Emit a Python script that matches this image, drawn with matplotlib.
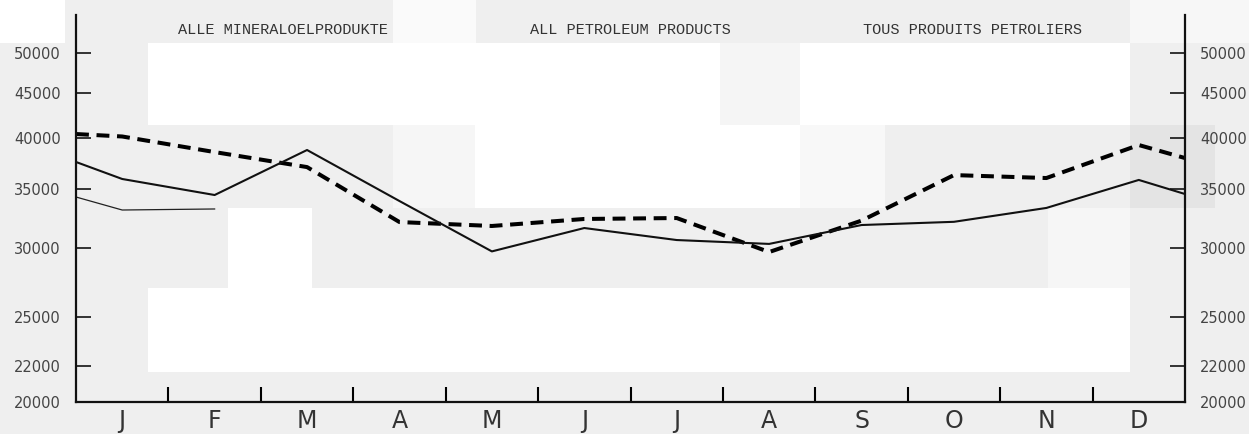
import matplotlib
matplotlib.use("Agg")
import matplotlib.pyplot as plt
from matplotlib.patches import Rectangle
from matplotlib.ticker import FixedLocator, NullLocator, FixedFormatter
import numpy as np

# Monatslabels und Werte (Rand links, 12 Monate, Rand rechts)
months = ["J", "F", "M", "A", "M", "J", "J", "A", "S", "O", "N", "D"]
titles = ["ALLE MINERALOELPRODUKTE", "ALL PETROLEUM PRODUCTS", "TOUS PRODUITS PETROLIERS"]

dashed_vals = [40420, 40160, 38550, 37060, 32080, 31750, 32340, 32420,
               29650, 32200, 36290, 36010, 39270, 37950]
solid_vals = [37560, 35920, 34440, 38760, 33900, 29700, 31580, 30600,
              30290, 31830, 32100, 33290, 35830, 34530]
thin_vals = [34260, 33110, 33200]

y_ticks = [20000, 22000, 25000, 30000, 35000, 40000, 45000, 50000]

W, H = 1249, 434
fig = plt.figure(figsize=(W / 100, H / 100), dpi=100)
fig.patch.set_facecolor("#efefef")

# hintergrund-bloecke wie im scan
blocks = [
    (0, 0, 65, 43, "white"),
    (393, 0, 476, 43, "#fafafa"),
    (1130, 0, 1249, 43, "#f7f7f7"),
    (148, 43, 720, 125, "white"),
    (720, 43, 800, 125, "#f5f5f5"),
    (800, 43, 1130, 125, "white"),
    (393, 125, 475, 208, "#f6f6f6"),
    (475, 125, 800, 208, "white"),
    (800, 125, 885, 208, "#f8f8f8"),
    (1130, 125, 1215, 208, "#e4e4e4"),
    (228, 208, 312, 372, "white"),
    (1048, 208, 1130, 288, "#f6f6f6"),
    (148, 288, 1130, 372, "white"),
]
for x0, y0, x1, y1, c in blocks:
    fig.add_artist(Rectangle((x0 / W, 1 - y1 / H), (x1 - x0) / W, (y1 - y0) / H,
                             transform=fig.transFigure, facecolor=c,
                             edgecolor="none", zorder=0))

ax = fig.add_axes([76 / W, (H - 402) / H, 1109 / W, 387 / H])
ax.patch.set_visible(False)

n = len(months)
x_full = np.concatenate([[0], np.arange(n) + 0.5, [n]])
x_thin = x_full[:len(thin_vals)]

ax.plot(x_full, dashed_vals, color="black", lw=2.9, linestyle=(0, (3.2, 1.9)),
        solid_capstyle="butt", dash_capstyle="butt")
ax.plot(x_full, solid_vals, color="#111111", lw=1.5)
ax.plot(x_thin, thin_vals, color="#222222", lw=0.9)

ax.set_yscale("log")
ax.set_ylim(20000, 55250)
ax.set_xlim(0, n)

ax.yaxis.set_major_locator(FixedLocator(y_ticks))
ax.yaxis.set_major_formatter(FixedFormatter([str(v) for v in y_ticks]))
ax.yaxis.set_minor_locator(NullLocator())
ax.tick_params(axis="y", which="major", direction="in", length=11, width=1.1,
               left=True, right=True, labelleft=True, labelright=True,
               labelsize=10.5, labelcolor="#444444", pad=11)

ax.set_xticks(np.arange(1, n))
ax.set_xticklabels([])
ax.set_xticks(np.arange(n) + 0.5, minor=True)
ax.set_xticklabels(months, minor=True)
ax.tick_params(axis="x", which="major", direction="in", length=11, width=1.5)
ax.tick_params(axis="x", which="minor", length=0, pad=5, labelsize=17,
               labelcolor="#333333")

for s in ["left", "right", "bottom"]:
    ax.spines[s].set_linewidth(1.6)
    ax.spines[s].set_color("#111111")
ax.spines["top"].set_visible(False)

for t, xc in zip(titles, [0.1867, 0.4995, 0.808]):
    ax.text(xc, 0.961, t, transform=ax.transAxes, ha="center", va="center",
            fontsize=11, family="Liberation Mono", color="#333333")

fig.savefig("out.png", dpi=100, facecolor=fig.get_facecolor())
